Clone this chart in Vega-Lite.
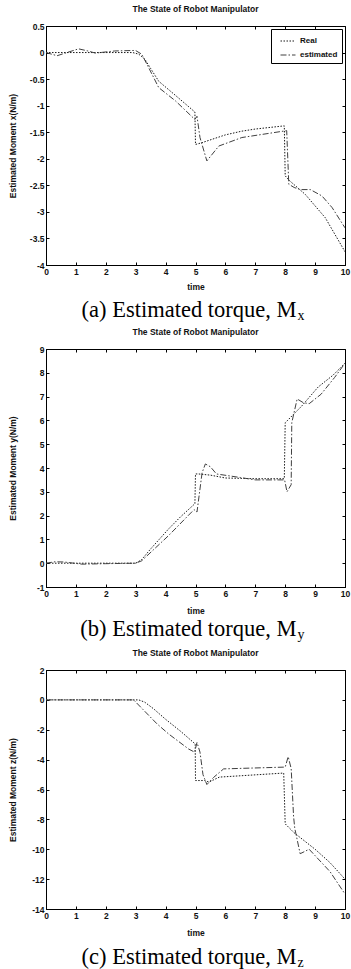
{
  "$schema": "https://vega.github.io/schema/vega-lite/v6.json",
  "padding": {"top": 4, "left": 7, "right": 0, "bottom": 0},
  "bounds": "flush",
  "spacing": 0,
  "config": {
    "font": "Liberation Sans",
    "view": {"stroke": "#000", "strokeWidth": 1},
    "axis": {"grid": false, "domainColor": "#000", "tickColor": "#000", "tickSize": -3, "labelPadding": 5, "labelFontSize": 8.5, "labelFontWeight": "bold", "labelColor": "#111", "labelFont": "Liberation Sans", "titleFont": "Liberation Sans", "titleFontSize": 8.5, "titleFontWeight": "bold", "titleColor": "#111", "labelFlush": false, "labelOverlap": false, "minExtent": 0},
    "title": {"fontSize": 8.5, "fontWeight": "bold", "color": "#111", "offset": 9, "font": "Liberation Sans"},
    "legend": {"orient": "top-right", "offset": 3, "strokeColor": "#000", "fillColor": "#fff", "padding": 4, "cornerRadius": 0, "symbolType": "stroke", "symbolSize": 225, "symbolOffset": 5, "symbolStrokeWidth": 1, "labelFontSize": 8, "labelFontWeight": "bold", "labelColor": "#111", "labelFont": "Liberation Sans", "rowPadding": 2, "labelOffset": 4}
  },
  "datasets": {
    "mx": [
      {"t":0,"v":0,"s":"Real"},{"t":1,"v":0,"s":"Real"},{"t":2,"v":0,"s":"Real"},{"t":2.9,"v":0,"s":"Real"},{"t":3.1,"v":-0.03,"s":"Real"},{"t":3.3,"v":-0.12,"s":"Real"},{"t":3.5,"v":-0.3,"s":"Real"},{"t":3.77,"v":-0.54,"s":"Real"},{"t":4.4,"v":-0.84,"s":"Real"},{"t":4.98,"v":-1.12,"s":"Real"},{"t":5.0,"v":-1.73,"s":"Real"},{"t":5.2,"v":-1.7,"s":"Real"},{"t":6.0,"v":-1.55,"s":"Real"},{"t":6.55,"v":-1.48,"s":"Real"},{"t":7.0,"v":-1.44,"s":"Real"},{"t":7.97,"v":-1.38,"s":"Real"},{"t":8.0,"v":-2.32,"s":"Real"},{"t":8.12,"v":-2.4,"s":"Real"},{"t":8.67,"v":-2.67,"s":"Real"},{"t":9.34,"v":-3.11,"s":"Real"},{"t":10,"v":-3.75,"s":"Real"},
      {"t":0,"v":0,"s":"estimated"},{"t":0.37,"v":-0.06,"s":"estimated"},{"t":0.7,"v":0.0,"s":"estimated"},{"t":1.09,"v":0.07,"s":"estimated"},{"t":1.4,"v":0.03,"s":"estimated"},{"t":1.65,"v":-0.01,"s":"estimated"},{"t":2.3,"v":0.03,"s":"estimated"},{"t":2.99,"v":0.04,"s":"estimated"},{"t":3.2,"v":-0.03,"s":"estimated"},{"t":3.43,"v":-0.28,"s":"estimated"},{"t":3.77,"v":-0.66,"s":"estimated"},{"t":4.33,"v":-0.91,"s":"estimated"},{"t":4.98,"v":-1.26,"s":"estimated"},{"t":5.05,"v":-1.2,"s":"estimated"},{"t":5.15,"v":-1.6,"s":"estimated"},{"t":5.38,"v":-2.04,"s":"estimated"},{"t":5.78,"v":-1.76,"s":"estimated"},{"t":6.55,"v":-1.6,"s":"estimated"},{"t":8.05,"v":-1.47,"s":"estimated"},{"t":8.12,"v":-2.48,"s":"estimated"},{"t":8.3,"v":-2.54,"s":"estimated"},{"t":8.5,"v":-2.58,"s":"estimated"},{"t":8.84,"v":-2.58,"s":"estimated"},{"t":9.23,"v":-2.7,"s":"estimated"},{"t":9.57,"v":-2.92,"s":"estimated"},{"t":10,"v":-3.3,"s":"estimated"}
    ],
    "my": [
      {"t":0,"v":0,"s":"Real"},{"t":1,"v":0,"s":"Real"},{"t":2,"v":0,"s":"Real"},{"t":3,"v":0,"s":"Real"},{"t":3.2,"v":0.15,"s":"Real"},{"t":3.5,"v":0.6,"s":"Real"},{"t":4.1,"v":1.44,"s":"Real"},{"t":4.5,"v":1.95,"s":"Real"},{"t":4.98,"v":2.5,"s":"Real"},{"t":5.0,"v":3.75,"s":"Real"},{"t":5.1,"v":3.75,"s":"Real"},{"t":5.5,"v":3.7,"s":"Real"},{"t":6.0,"v":3.58,"s":"Real"},{"t":7.0,"v":3.55,"s":"Real"},{"t":7.97,"v":3.55,"s":"Real"},{"t":8.0,"v":5.9,"s":"Real"},{"t":8.55,"v":6.6,"s":"Real"},{"t":9.1,"v":7.4,"s":"Real"},{"t":9.6,"v":7.9,"s":"Real"},{"t":10,"v":8.4,"s":"Real"},
      {"t":0,"v":0,"s":"estimated"},{"t":0.3,"v":0.06,"s":"estimated"},{"t":0.6,"v":0.05,"s":"estimated"},{"t":1.2,"v":-0.04,"s":"estimated"},{"t":2,"v":-0.02,"s":"estimated"},{"t":3,"v":0,"s":"estimated"},{"t":3.2,"v":0.1,"s":"estimated"},{"t":4.1,"v":1.16,"s":"estimated"},{"t":4.95,"v":2.25,"s":"estimated"},{"t":5.05,"v":2.15,"s":"estimated"},{"t":5.22,"v":3.8,"s":"estimated"},{"t":5.33,"v":4.17,"s":"estimated"},{"t":5.5,"v":4.05,"s":"estimated"},{"t":5.7,"v":3.75,"s":"estimated"},{"t":6.5,"v":3.6,"s":"estimated"},{"t":7.0,"v":3.5,"s":"estimated"},{"t":7.98,"v":3.5,"s":"estimated"},{"t":8.06,"v":3.0,"s":"estimated"},{"t":8.2,"v":3.3,"s":"estimated"},{"t":8.22,"v":5.9,"s":"estimated"},{"t":8.3,"v":6.35,"s":"estimated"},{"t":8.4,"v":6.9,"s":"estimated"},{"t":8.6,"v":6.75,"s":"estimated"},{"t":8.8,"v":6.7,"s":"estimated"},{"t":9.2,"v":7.1,"s":"estimated"},{"t":9.65,"v":7.8,"s":"estimated"},{"t":10,"v":8.4,"s":"estimated"}
    ],
    "mz": [
      {"t":0,"v":0,"s":"Real"},{"t":1,"v":0,"s":"Real"},{"t":2,"v":0,"s":"Real"},{"t":3.1,"v":0,"s":"Real"},{"t":3.3,"v":-0.15,"s":"Real"},{"t":3.6,"v":-0.6,"s":"Real"},{"t":4.0,"v":-1.3,"s":"Real"},{"t":4.5,"v":-2.1,"s":"Real"},{"t":4.99,"v":-2.95,"s":"Real"},{"t":5.0,"v":-5.4,"s":"Real"},{"t":5.3,"v":-5.4,"s":"Real"},{"t":5.45,"v":-5.5,"s":"Real"},{"t":5.8,"v":-5.17,"s":"Real"},{"t":7.95,"v":-4.9,"s":"Real"},{"t":8.0,"v":-8.3,"s":"Real"},{"t":8.3,"v":-8.9,"s":"Real"},{"t":9.0,"v":-10.0,"s":"Real"},{"t":9.5,"v":-10.9,"s":"Real"},{"t":10,"v":-12.0,"s":"Real"},
      {"t":0,"v":0,"s":"estimated"},{"t":2.93,"v":0,"s":"estimated"},{"t":3.71,"v":-1.6,"s":"estimated"},{"t":4.1,"v":-2.28,"s":"estimated"},{"t":4.77,"v":-3.29,"s":"estimated"},{"t":4.97,"v":-3.5,"s":"estimated"},{"t":5.05,"v":-2.85,"s":"estimated"},{"t":5.15,"v":-3.5,"s":"estimated"},{"t":5.25,"v":-5.0,"s":"estimated"},{"t":5.38,"v":-5.67,"s":"estimated"},{"t":5.6,"v":-5.2,"s":"estimated"},{"t":5.94,"v":-4.62,"s":"estimated"},{"t":8.0,"v":-4.5,"s":"estimated"},{"t":8.1,"v":-3.8,"s":"estimated"},{"t":8.2,"v":-4.6,"s":"estimated"},{"t":8.28,"v":-7.8,"s":"estimated"},{"t":8.32,"v":-8.6,"s":"estimated"},{"t":8.5,"v":-10.3,"s":"estimated"},{"t":8.8,"v":-10.0,"s":"estimated"},{"t":9.5,"v":-11.5,"s":"estimated"},{"t":10,"v":-13.0,"s":"estimated"}
    ]
  },
  "vconcat": [
    {
      "title": "The State of Robot Manipulator",
      "width": 299, "height": 239,
      "data": {"name": "mx"},
      "layer": [
        {
          "mark": {"type": "line", "strokeWidth": 1, "clip": true},
          "encoding": {
            "x": {"field": "t", "type": "quantitative", "scale": {"domain": [0, 10], "nice": false}, "axis": {"title": "time", "values": [0,1,2,3,4,5,6,7,8,9,10], "titleY": 17}},
            "y": {"field": "v", "type": "quantitative", "scale": {"domain": [-4, 0.5], "nice": false, "zero": false}, "axis": {"title": "Estimated Moment x(N/m)", "values": [-4,-3.5,-3,-2.5,-2,-1.5,-1,-0.5,0,0.5], "labelExpr": "datum.value + ''", "titleX": -29}},
            "strokeDash": {"field": "s", "type": "nominal", "scale": {"domain": ["Real", "estimated"], "range": [[1.5, 1.5], [6, 2, 1.5, 2]]}, "legend": {"title": null}},
            "color": {"field": "s", "type": "nominal", "scale": {"domain": ["Real", "estimated"], "range": ["#1a1a1a", "#404040"]}, "legend": {"title": null}}
          }
        },
        {
          "mark": {"type": "line", "opacity": 0},
          "encoding": {
            "x": {"field": "t", "type": "quantitative", "scale": {"domain": [0, 10], "nice": false}, "axis": {"orient": "top", "title": null, "labels": false, "domain": false, "values": [0,1,2,3,4,5,6,7,8,9,10]}},
            "y": {"field": "v", "type": "quantitative", "scale": {"domain": [-4, 0.5], "nice": false, "zero": false}, "axis": {"orient": "right", "title": null, "labels": false, "domain": false, "values": [-4,-3.5,-3,-2.5,-2,-1.5,-1,-0.5,0,0.5]}},
            "detail": {"field": "s"}
          }
        }
      ],
      "resolve": {"axis": {"x": "independent", "y": "independent"}}
    },
    {
      "width": 299, "height": 84,
      "view": {"stroke": null},
      "data": {"values": [{"main": "(a) Estimated torque, M", "sub": "x"}]},
      "layer": [
        {"mark": {"type": "text", "font": "Liberation Serif", "fontSize": 22.5, "align": "right", "baseline": "middle", "dx": 101, "dy": 3, "color": "#000"}, "encoding": {"text": {"field": "main"}}},
        {"mark": {"type": "text", "font": "Liberation Serif", "fontSize": 14, "align": "left", "baseline": "middle", "dx": 102, "dy": 9, "color": "#000"}, "encoding": {"text": {"field": "sub"}}}
      ]
    },
    {
      "title": "The State of Robot Manipulator",
      "width": 299, "height": 238,
      "data": {"name": "my"},
      "layer": [
        {
          "mark": {"type": "line", "strokeWidth": 1, "clip": true},
          "encoding": {
            "x": {"field": "t", "type": "quantitative", "scale": {"domain": [0, 10], "nice": false}, "axis": {"title": "time", "values": [0,1,2,3,4,5,6,7,8,9,10], "titleY": 19}},
            "y": {"field": "v", "type": "quantitative", "scale": {"domain": [-1, 9], "nice": false, "zero": false}, "axis": {"title": "Estimated Moment y(N/m)", "values": [-1,0,1,2,3,4,5,6,7,8,9], "labelExpr": "datum.value + ''", "titleX": -29}},
            "strokeDash": {"field": "s", "type": "nominal", "scale": {"domain": ["Real", "estimated"], "range": [[1.5, 1.5], [6, 2, 1.5, 2]]}, "legend": {"title": null}},
            "color": {"field": "s", "type": "nominal", "scale": {"domain": ["Real", "estimated"], "range": ["#1a1a1a", "#404040"]}, "legend": {"title": null}}
          }
        },
        {
          "mark": {"type": "line", "opacity": 0},
          "encoding": {
            "x": {"field": "t", "type": "quantitative", "scale": {"domain": [0, 10], "nice": false}, "axis": {"orient": "top", "title": null, "labels": false, "domain": false, "values": [0,1,2,3,4,5,6,7,8,9,10]}},
            "y": {"field": "v", "type": "quantitative", "scale": {"domain": [-1, 9], "nice": false, "zero": false}, "axis": {"orient": "right", "title": null, "labels": false, "domain": false, "values": [-1,0,1,2,3,4,5,6,7,8,9]}},
            "detail": {"field": "s"}
          }
        }
      ],
      "resolve": {"axis": {"x": "independent", "y": "independent"}}
    },
    {
      "width": 299, "height": 83,
      "view": {"stroke": null},
      "data": {"values": [{"main": "(b) Estimated torque, M", "sub": "y"}]},
      "layer": [
        {"mark": {"type": "text", "font": "Liberation Serif", "fontSize": 22.5, "align": "right", "baseline": "middle", "dx": 101, "dy": 0, "color": "#000"}, "encoding": {"text": {"field": "main"}}},
        {"mark": {"type": "text", "font": "Liberation Serif", "fontSize": 14, "align": "left", "baseline": "middle", "dx": 102, "dy": 6, "color": "#000"}, "encoding": {"text": {"field": "sub"}}}
      ]
    },
    {
      "title": "The State of Robot Manipulator",
      "width": 299, "height": 239,
      "data": {"name": "mz"},
      "layer": [
        {
          "mark": {"type": "line", "strokeWidth": 1, "clip": true},
          "encoding": {
            "x": {"field": "t", "type": "quantitative", "scale": {"domain": [0, 10], "nice": false}, "axis": {"title": "time", "values": [0,1,2,3,4,5,6,7,8,9,10], "titleY": 19}},
            "y": {"field": "v", "type": "quantitative", "scale": {"domain": [-14, 2], "nice": false, "zero": false}, "axis": {"title": "Estimated Moment z(N/m)", "values": [-14,-12,-10,-8,-6,-4,-2,0,2], "labelExpr": "datum.value + ''", "titleX": -29}},
            "strokeDash": {"field": "s", "type": "nominal", "scale": {"domain": ["Real", "estimated"], "range": [[1.5, 1.5], [6, 2, 1.5, 2]]}, "legend": {"title": null}},
            "color": {"field": "s", "type": "nominal", "scale": {"domain": ["Real", "estimated"], "range": ["#1a1a1a", "#404040"]}, "legend": {"title": null}}
          }
        },
        {
          "mark": {"type": "line", "opacity": 0},
          "encoding": {
            "x": {"field": "t", "type": "quantitative", "scale": {"domain": [0, 10], "nice": false}, "axis": {"orient": "top", "title": null, "labels": false, "domain": false, "values": [0,1,2,3,4,5,6,7,8,9,10]}},
            "y": {"field": "v", "type": "quantitative", "scale": {"domain": [-14, 2], "nice": false, "zero": false}, "axis": {"orient": "right", "title": null, "labels": false, "domain": false, "values": [-14,-12,-10,-8,-6,-4,-2,0,2]}},
            "detail": {"field": "s"}
          }
        }
      ],
      "resolve": {"axis": {"x": "independent", "y": "independent"}}
    },
    {
      "width": 299, "height": 62,
      "view": {"stroke": null},
      "data": {"values": [{"main": "(c) Estimated torque, M", "sub": "z"}]},
      "layer": [
        {"mark": {"type": "text", "font": "Liberation Serif", "fontSize": 22.5, "align": "right", "baseline": "middle", "dx": 101, "dy": 17, "color": "#000"}, "encoding": {"text": {"field": "main"}}},
        {"mark": {"type": "text", "font": "Liberation Serif", "fontSize": 14, "align": "left", "baseline": "middle", "dx": 102, "dy": 23, "color": "#000"}, "encoding": {"text": {"field": "sub"}}}
      ]
    }
  ]
}
